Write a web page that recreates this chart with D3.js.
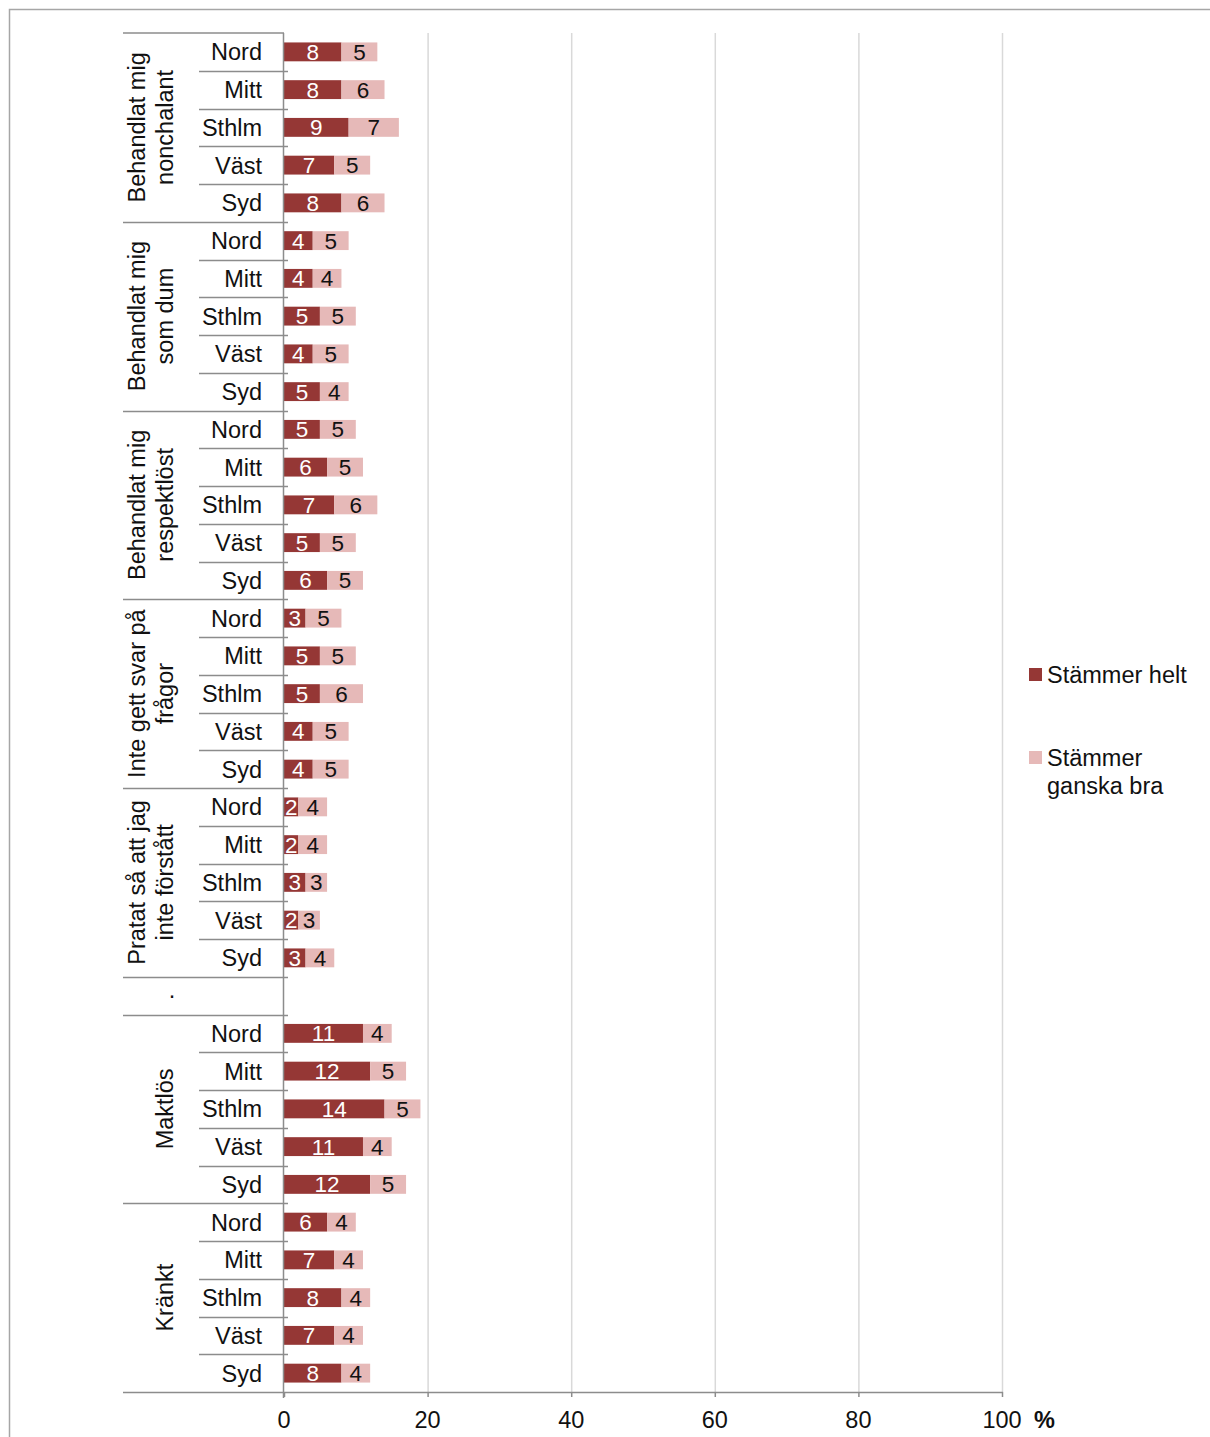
<!DOCTYPE html>
<html>
<head>
<meta charset="utf-8">
<script src="https://cdn.jsdelivr.net/npm/d3@7"></script>
<style>
  html, body { margin: 0; padding: 0; background: #fff; }
  svg { display: block; font-family: "Liberation Sans", Arial, sans-serif; }
</style>
</head>
<body>
<svg id="chart" width="1210" height="1437"></svg>
<script>
// Regions shown within each statement group
const regions = ["Nord", "Mitt", "Sthlm", "Väst", "Syd"];

// Statement groups (label lines); the "." group is an empty spacer row
const groupLabels = [
  ["Behandlat mig", "nonchalant"],
  ["Behandlat mig", "som dum"],
  ["Behandlat mig", "respektlöst"],
  ["Inte gett svar på", "frågor"],
  ["Pratat så att jag", "inte förstått"],
  ["."],
  ["Maktlös"],
  ["Kränkt"]
];

// Percent "Stämmer helt" per group, in region order
const stammerHelt = [
  [8, 8, 9, 7, 8],
  [4, 4, 5, 4, 5],
  [5, 6, 7, 5, 6],
  [3, 5, 5, 4, 4],
  [2, 2, 3, 2, 3],
  [],
  [11, 12, 14, 11, 12],
  [6, 7, 8, 7, 8]
];

// Percent "Stämmer ganska bra" per group, in region order
const stammerGanska = [
  [5, 6, 7, 5, 6],
  [5, 4, 5, 5, 4],
  [5, 5, 6, 5, 5],
  [5, 5, 6, 5, 5],
  [4, 4, 3, 3, 4],
  [],
  [4, 5, 5, 4, 5],
  [4, 4, 4, 4, 4]
];

const seriesNames = ["Stämmer helt", "Stämmer ganska bra"];
const xTicks = [0, 20, 40, 60, 80, 100];

const colors = ["#953735", "#e6b9b8"];
const lineColor = "#8c8c8c";
const gridColor = "#d9d9d9";

// Flatten into rows
const rows = [];
groupLabels.forEach((g, gi) => {
  if (stammerHelt[gi].length === 0) {
    rows.push({ key: "g" + gi + "-blank", group: gi, region: "", helt: null, ganska: null, first: true, last: true });
  } else {
    regions.forEach((r, ri) => {
      rows.push({
        key: "g" + gi + "-" + r, group: gi, region: r,
        helt: stammerHelt[gi][ri], ganska: stammerGanska[gi][ri],
        first: ri === 0, last: ri === regions.length - 1
      });
    });
  }
});

const svg = d3.select("#chart");

const plotLeft = 284, plotRight = 1002, plotTop = 33, plotBottom = 1392;
const labelLeft = 123, catLeft = 199;

const x = d3.scaleLinear().domain([0, 100]).range([plotLeft, plotRight]);
const y = d3.scaleBand().domain(rows.map(d => d.key)).range([plotTop, plotBottom])
  .paddingInner(0.5).paddingOuter(0.25);
const step = y.step();
const rowTop = d => y(d.key) - y.paddingOuter() * step;

// Outer frame
svg.append("rect")
  .attr("x", 9.5).attr("y", 9.5).attr("width", 1400).attr("height", 1600)
  .attr("fill", "none").attr("stroke", "#a6a6a6").attr("stroke-width", 1.5);

// Vertical gridlines
svg.append("g").selectAll("line")
  .data(xTicks.filter(t => t > 0))
  .join("line")
  .attr("x1", d => x(d) + 0.5).attr("x2", d => x(d) + 0.5)
  .attr("y1", plotTop).attr("y2", plotBottom)
  .attr("stroke", gridColor).attr("stroke-width", 1.5);

// Row and group separator lines in the category area
const sep = svg.append("g").attr("stroke", lineColor).attr("stroke-width", 1.5);
sep.append("line")
  .attr("x1", labelLeft).attr("x2", plotLeft)
  .attr("y1", plotTop).attr("y2", plotTop);
rows.forEach((d, i) => {
  if (i === 0) return;
  const yy = Math.round(rowTop(d)) + 0.5;
  sep.append("line")
    .attr("x1", d.first ? labelLeft : catLeft).attr("x2", plotLeft + 4)
    .attr("y1", yy).attr("y2", yy);
});

// Stacked bars
const barG = svg.append("g");
rows.filter(d => d.helt !== null).forEach(d => {
  const segs = [
    { v0: 0, v1: d.helt, val: d.helt, s: 0 },
    { v0: d.helt, v1: d.helt + d.ganska, val: d.ganska, s: 1 }
  ];
  segs.forEach(s => {
    barG.append("rect")
      .attr("x", x(s.v0)).attr("y", y(d.key))
      .attr("width", x(s.v1) - x(s.v0)).attr("height", y.bandwidth())
      .attr("fill", colors[s.s]);
  });
  segs.forEach(s => {
    barG.append("text")
      .attr("x", (x(s.v0) + x(s.v1)) / 2)
      .attr("y", y(d.key) + y.bandwidth() / 2)
      .attr("dy", "0.36em")
      .attr("text-anchor", "middle")
      .style("font-size", "22.5px")
      .attr("fill", s.s === 0 ? "#ffffff" : "#111111")
      .text(d3.format(".0f")(s.val));
  });
});

// Vertical category axis line
svg.append("line")
  .attr("x1", plotLeft - 0.5).attr("x2", plotLeft - 0.5)
  .attr("y1", plotTop).attr("y2", plotBottom + 6)
  .attr("stroke", lineColor).attr("stroke-width", 1.5);

// Bottom axis line
svg.append("line")
  .attr("x1", labelLeft).attr("x2", plotRight + 1)
  .attr("y1", plotBottom + 0.5).attr("y2", plotBottom + 0.5)
  .attr("stroke", lineColor).attr("stroke-width", 1.5);

// X ticks and labels
const xAxisG = svg.append("g");
xAxisG.selectAll("line.tick")
  .data(xTicks)
  .join("line")
  .attr("class", "tick")
  .attr("x1", d => x(d) + 0.5).attr("x2", d => x(d) + 0.5)
  .attr("y1", plotBottom).attr("y2", plotBottom + 5)
  .attr("stroke", lineColor).attr("stroke-width", 1.5);
xAxisG.selectAll("text")
  .data(xTicks)
  .join("text")
  .attr("x", d => x(d))
  .attr("y", 1428)
  .attr("text-anchor", "middle")
  .style("font-size", "23.5px")
  .attr("fill", "#111")
  .text(d => d);
svg.append("text")
  .attr("x", 1034).attr("y", 1428)
  .style("font-size", "23.5px").attr("font-weight", "bold").attr("fill", "#111")
  .text("%");

// Region labels
svg.append("g").selectAll("text")
  .data(rows.filter(d => d.region))
  .join("text")
  .attr("x", 262)
  .attr("y", d => y(d.key) + y.bandwidth() / 2)
  .attr("dy", "0.36em")
  .attr("text-anchor", "end")
  .style("font-size", "23.5px")
  .attr("fill", "#111")
  .text(d => d.region);

// Group labels (rotated)
groupLabels.forEach((lines, gi) => {
  const gRows = rows.filter(d => d.group === gi);
  const top = rowTop(gRows[0]);
  const bottom = rowTop(gRows[gRows.length - 1]) + step;
  const mid = (top + bottom) / 2;
  if (lines[0] === ".") {
    svg.append("text")
      .attr("x", 172).attr("y", mid).attr("dy", "0.1em")
      .attr("text-anchor", "middle").style("font-size", "23.5px").attr("fill", "#111")
      .text(".");
    return;
  }
  const xs = lines.length === 2 ? [137, 165] : [165];
  lines.forEach((t, li) => {
    svg.append("text")
      .attr("transform", `translate(${xs[li]},${mid}) rotate(-90)`)
      .attr("dy", "0.36em")
      .attr("text-anchor", "middle")
      .style("font-size", "23.5px")
      .attr("fill", "#111")
      .text(t);
  });
});

// Legend
const legend = svg.append("g");
const legendItems = [
  { y: 668, lines: ["Stämmer helt"] },
  { y: 751, lines: ["Stämmer", "ganska bra"] }
];
legendItems.forEach((item, i) => {
  legend.append("rect")
    .attr("x", 1029).attr("y", item.y).attr("width", 13).attr("height", 13)
    .attr("fill", colors[i]);
  item.lines.forEach((t, li) => {
    legend.append("text")
      .attr("x", 1047).attr("y", item.y + 14.5 + li * 28)
      .style("font-size", "23.5px").attr("fill", "#111")
      .text(t);
  });
});
</script>
</body>
</html>
